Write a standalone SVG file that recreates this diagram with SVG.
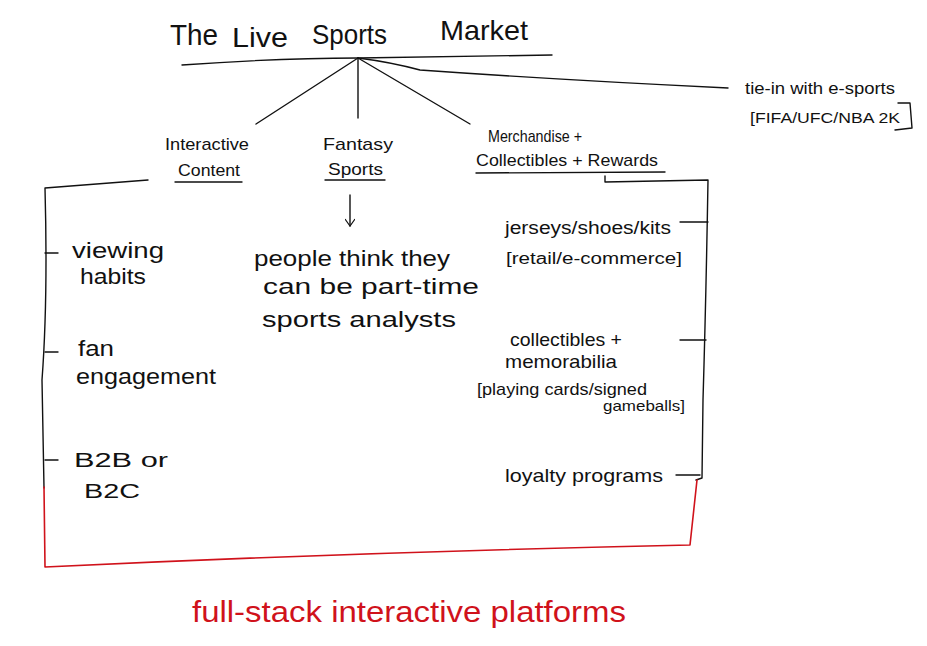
<svg xmlns="http://www.w3.org/2000/svg" width="927" height="646" viewBox="0 0 927 646">
<defs>
<style>
.t{font-family:"Liberation Sans",Arial,sans-serif;fill:#111;}
.ln{fill:none;stroke:#111;stroke-width:1.4;stroke-linecap:round;stroke-linejoin:round;}
.rd{fill:none;stroke:#d0121b;stroke-width:1.6;stroke-linecap:round;stroke-linejoin:round;}
</style>
<marker id="ah" viewBox="0 0 10 10" refX="9" refY="5" markerWidth="10" markerHeight="10" orient="auto" markerUnits="userSpaceOnUse">
<path d="M2,0 L9,5 L2,10" fill="none" stroke="#111" stroke-width="1.2"/>
</marker>
</defs>
<rect width="927" height="646" fill="#fff"/>

<g id="connectors">
<path class="ln" d="M182,65 Q280,58 358,58 Q460,56 552,55"/>
<path class="ln" d="M358,58 Q390,62 420,70 Q560,80 728,88"/>
<path class="ln" d="M358,58 L256,124"/>
<path class="ln" d="M358,58 L358,118"/>
<path class="ln" d="M358,58 L470,124"/>
<path class="ln" d="M175,182 L242,182"/>
<path class="ln" d="M325,180 L385,180"/>
<path class="ln" d="M476,173 L665,172"/>
<path class="ln" d="M148,180 L45,188 Q48,300 42,380 L44,488"/>
<path class="ln" d="M45,253 L58,253"/>
<path class="ln" d="M45,352 L58,352"/>
<path class="ln" d="M45,460 L58,460"/>
<path class="ln" d="M605,176 L605,182 L708,180 Q706,300 703,400 L702,478 L696,480"/>
<path class="ln" d="M680,222 L708,222"/>
<path class="ln" d="M680,340 L706,340"/>
<path class="ln" d="M676,475 L700,475"/>
<path class="ln" d="M350,195 L350,226" marker-end="url(#ah)"/>
<path class="rd" d="M44,487 L45,567 Q360,552 690,545 L697,480"/>
<path class="ln" d="M898,103 L910,103 L912,128 L895,130"/>
</g>

<g id="title">
<text class="t" x="170" y="45" font-size="30" textLength="48" lengthAdjust="spacingAndGlyphs">The</text>
<text class="t" x="232" y="47" font-size="28" textLength="56" lengthAdjust="spacingAndGlyphs">Live</text>
<text class="t" x="312" y="44" font-size="28" textLength="75" lengthAdjust="spacingAndGlyphs">Sports</text>
<text class="t" x="440" y="40" font-size="28" textLength="88" lengthAdjust="spacingAndGlyphs">Market</text>
</g>

<g id="tie-in">
<text class="t" x="745" y="94" font-size="17" textLength="150" lengthAdjust="spacingAndGlyphs">tie-in with e-sports</text>
<text class="t" x="750" y="123" font-size="14" textLength="150" lengthAdjust="spacingAndGlyphs">[FIFA/UFC/NBA 2K</text>
</g>

<g id="interactive-content">
<text class="t" x="165" y="150" font-size="17" textLength="84" lengthAdjust="spacingAndGlyphs">Interactive</text>
<text class="t" x="178" y="176" font-size="17" textLength="62" lengthAdjust="spacingAndGlyphs">Content</text>
</g>

<g id="fantasy-sports">
<text class="t" x="323" y="150" font-size="17" textLength="70" lengthAdjust="spacingAndGlyphs">Fantasy</text>
<text class="t" x="328" y="175" font-size="17" textLength="55" lengthAdjust="spacingAndGlyphs">Sports</text>
</g>

<g id="merchandise">
<text class="t" x="488" y="142" font-size="17" textLength="94" lengthAdjust="spacingAndGlyphs">Merchandise +</text>
<text class="t" x="476" y="166" font-size="17" textLength="182" lengthAdjust="spacingAndGlyphs">Collectibles + Rewards</text>
</g>

<g id="viewing-habits">
<text class="t" x="72" y="258" font-size="22" textLength="92" lengthAdjust="spacingAndGlyphs">viewing</text>
<text class="t" x="80" y="284" font-size="22" textLength="66" lengthAdjust="spacingAndGlyphs">habits</text>
</g>

<g id="fan-engagement">
<text class="t" x="78" y="356" font-size="22" textLength="36" lengthAdjust="spacingAndGlyphs">fan</text>
<text class="t" x="76" y="384" font-size="22" textLength="140" lengthAdjust="spacingAndGlyphs">engagement</text>
</g>

<g id="b2b-b2c">
<text class="t" x="74" y="467" font-size="20" textLength="94" lengthAdjust="spacingAndGlyphs">B2B  or</text>
<text class="t" x="84" y="498" font-size="20" textLength="56" lengthAdjust="spacingAndGlyphs">B2C</text>
</g>

<g id="people-think">
<text class="t" x="254" y="266" font-size="22" textLength="196" lengthAdjust="spacingAndGlyphs">people think they</text>
<text class="t" x="263" y="294" font-size="22" textLength="216" lengthAdjust="spacingAndGlyphs">can be part-time</text>
<text class="t" x="262" y="327" font-size="22" textLength="194" lengthAdjust="spacingAndGlyphs">sports analysts</text>
</g>

<g id="jerseys">
<text class="t" x="505" y="234" font-size="18" textLength="166" lengthAdjust="spacingAndGlyphs">jerseys/shoes/kits</text>
<text class="t" x="506" y="264" font-size="16" textLength="176" lengthAdjust="spacingAndGlyphs">[retail/e-commerce]</text>
</g>

<g id="collectibles">
<text class="t" x="510" y="346" font-size="19" textLength="112" lengthAdjust="spacingAndGlyphs">collectibles +</text>
<text class="t" x="505" y="368" font-size="19" textLength="112" lengthAdjust="spacingAndGlyphs">memorabilia</text>
<text class="t" x="477" y="395" font-size="17" textLength="170" lengthAdjust="spacingAndGlyphs">[playing cards/signed</text>
<text class="t" x="603" y="411" font-size="15" textLength="82" lengthAdjust="spacingAndGlyphs">gameballs]</text>
</g>

<g id="loyalty">
<text class="t" x="505" y="482" font-size="19" textLength="158" lengthAdjust="spacingAndGlyphs">loyalty programs</text>
</g>

<g id="full-stack">
<text x="192" y="622" font-family="Liberation Sans, Arial, sans-serif" font-size="30" fill="#d0121b" textLength="434" lengthAdjust="spacingAndGlyphs">full-stack interactive platforms</text>
</g>
</svg>
